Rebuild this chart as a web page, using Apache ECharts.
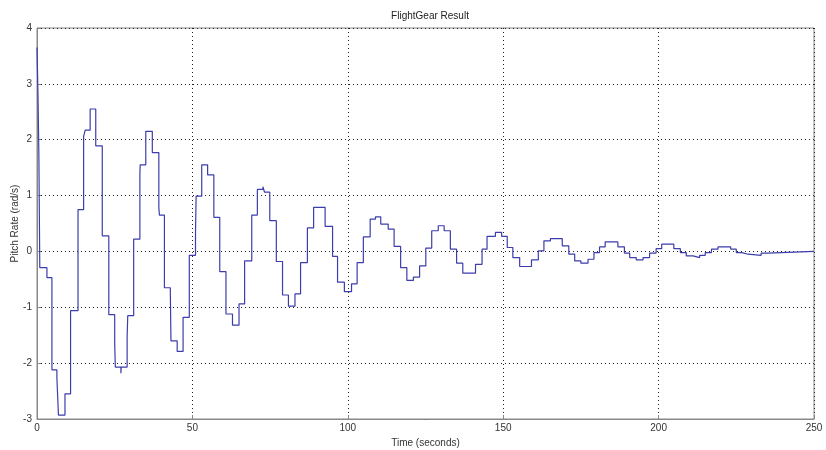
<!DOCTYPE html>
<html>
<head>
<meta charset="utf-8">
<script src="https://cdn.jsdelivr.net/npm/echarts@6/dist/echarts.min.js"></script>
<style>
  html, body { margin: 0; padding: 0; background: #fff; }
  #chart { width: 826px; height: 450px; }
</style>
</head>
<body>
<div id="chart"></div>
<script>
// step start times (seconds) and held pitch rate (rad/s)
const stepTimes = [
  0, 0.3, 0.6, 0.9, 3.2, 4.8, 6.4, 6.9, 9.0, 10.8,
  13.2, 15.0, 15.5, 17.1, 18.9, 21.0, 23.1, 25.0, 25.2, 27.0,
  27.1, 29.0, 29.2, 31.1, 33.1, 33.2, 35.0, 37.1, 39.2, 39.4,
  41.0, 42.9, 43.1, 45.1, 47.0, 49.0, 51.0, 51.2, 53.0, 54.9,
  56.9, 58.8, 60.8, 62.9, 65.0, 66.8, 69.1, 70.9, 72.7, 73.2,
  74.9, 77.0, 79.0, 80.9, 83.0, 84.8, 87.0, 89.0, 92.7, 95.1,
  96.7, 98.9, 101.2, 103.0, 105.0, 107.2, 108.9, 110.6, 113.0, 114.9,
  117.0, 119.0, 121.1, 123.1, 125.1, 127.0, 129.1, 131.0, 133.0, 135.0,
  137.0, 141.1, 143.2, 144.8, 147.5, 149.5, 151.3, 153.1, 155.3, 159.1,
  161.3, 163.1, 165.2, 169.0, 171.1, 173.0, 175.0, 177.3, 179.2, 181.0,
  182.8, 186.9, 189.0, 190.7, 192.8, 195.0, 197.1, 199.2, 201.0, 204.9,
  207.0, 208.9, 211.1, 213.2, 215.0, 217.0, 219.1, 223.2, 225.0, 226.8,
  228.8, 233.0, 235.2, 250
]
const pitchRate = [
  3.65, 2.85, 1.75, -0.29, -0.47, -2.12, -2.26, -2.93, -2.55, -1.06,
  0.75, 2.06, 2.17, 2.55, 1.89, 0.28, -1.13, -1.65, -2.07, -2.18,
  -2.07, -1.53, -1.15, 0.22, 1.38, 1.55, 2.15, 1.77, 0.78, 0.65,
  -0.65, -0.73, -1.6, -1.79, -1.18, -0.07, 0.34, 0.99, 1.55, 1.37,
  0.61, -0.36, -1.12, -1.32, -0.94, -0.17, 0.65, 1.11, 1.16, 1.06,
  0.55, -0.18, -0.78, -0.98, -0.76, -0.2, 0.42, 0.79, 0.45, -0.09,
  -0.55, -0.72, -0.58, -0.2, 0.26, 0.58, 0.62, 0.49, 0.4, 0.09,
  -0.29, -0.52, -0.46, -0.26, 0.06, 0.37, 0.46, 0.37, 0.04, -0.21,
  -0.39, -0.23, 0.04, 0.27, 0.34, 0.27, 0.07, -0.11, -0.27, -0.15,
  0.01, 0.19, 0.23, 0.1, -0.05, -0.17, -0.21, -0.14, -0.02, 0.08,
  0.17, 0.08, -0.03, -0.11, -0.15, -0.11, -0.03, 0.05, 0.13, 0.05,
  -0.02, -0.08, -0.11, -0.07, -0.02, 0.04, 0.08, 0.04, -0.02, -0.05,
  -0.07, -0.03, 0, 0
]

const chart = echarts.init(document.getElementById('chart'))

const gridLine = { show: true, lineStyle: { color: '#222', type: [1, 3], width: 1 } }
const axisText = { color: '#333', fontFamily: 'Liberation Sans, Arial, sans-serif', fontSize: 10 }

chart.setOption({
  animation: false,
  title: {
    text: 'FlightGear Result',
    left: 425,
    top: 6,
    textAlign: 'center',
    textStyle: { color: '#222', fontWeight: 'normal', fontSize: 10, fontFamily: 'Liberation Sans, Arial, sans-serif' }
  },
  grid: {
    left: 37, right: 12, top: 28, bottom: 31,
    containLabel: false,
    outerBoundsMode: 'none',
    show: true, borderColor: '#888', borderWidth: 1
  },
  xAxis: {
    type: 'value',
    min: 0, max: 250, interval: 50,
    name: 'Time (seconds)',
    nameLocation: 'middle',
    nameGap: 19,
    nameMoveOverlap: false,
    nameTextStyle: axisText,
    axisLine: { show: true, onZero: false, lineStyle: { color: '#888' } },
    axisTick: { inside: true, length: 4, lineStyle: { color: '#888' } },
    axisLabel: { ...axisText, margin: 4 },
    splitLine: gridLine
  },
  yAxis: {
    type: 'value',
    min: -3, max: 4, interval: 1,
    name: 'Pitch Rate (rad/s)',
    nameLocation: 'middle',
    nameGap: 17,
    nameMoveOverlap: false,
    nameTextStyle: axisText,
    axisLine: { show: true, onZero: false, lineStyle: { color: '#888' } },
    axisTick: { show: true, inside: true, length: 4, lineStyle: { color: '#888' } },
    axisLabel: { ...axisText, margin: 5 },
    splitLine: gridLine
  },
  series: [
    {
      type: 'line',
      step: 'end',
      data: stepTimes.map((t, i) => [t, pitchRate[i]]),
      symbol: 'none',
      lineStyle: { color: '#3d3dab', width: 1.2 }
    }
  ]
})
</script>
</body>
</html>
